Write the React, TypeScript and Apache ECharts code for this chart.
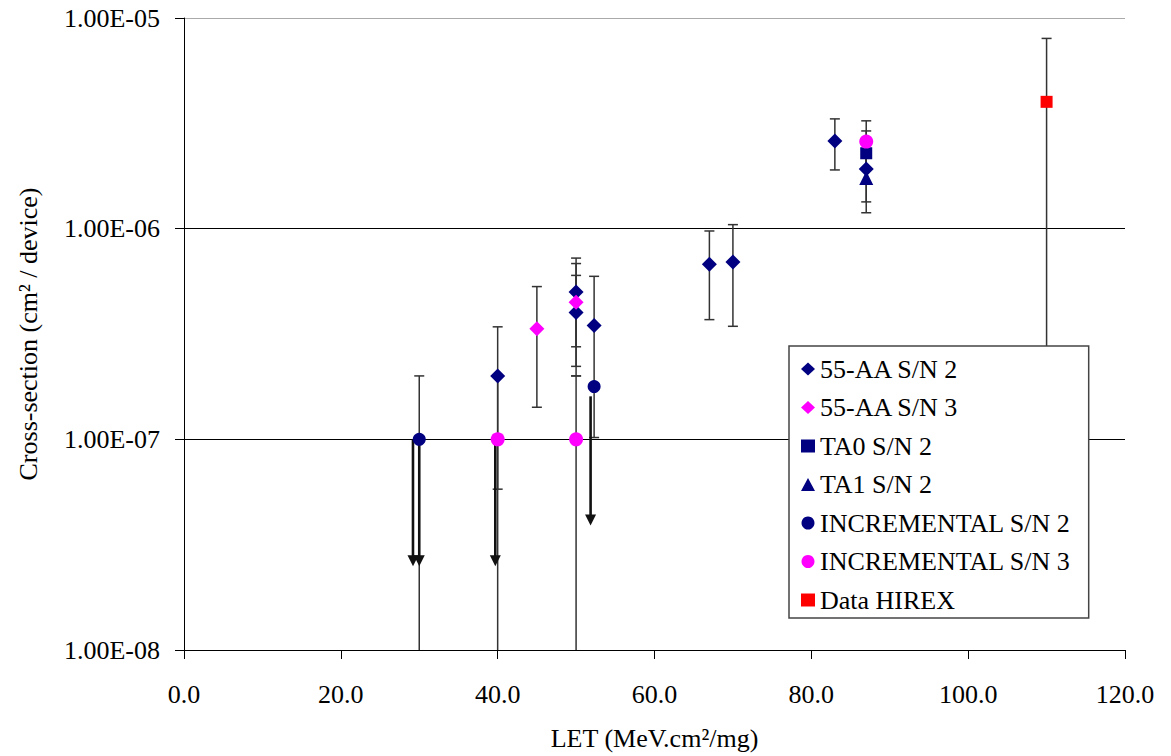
import React, { useEffect, useRef } from "react";
import * as echarts from "echarts";

// ---- Data ----
const seriesNames = [
  "55-AA S/N 2",
  "55-AA S/N 3",
  "TA0 S/N 2",
  "TA1 S/N 2",
  "INCREMENTAL S/N 2",
  "INCREMENTAL S/N 3",
  "Data HIREX",
];

// 55-AA S/N 2
const aa2X = [40, 50, 50, 52.3, 67, 70, 83, 87];
const aa2Y = [2.0e-7, 5.0e-7, 4.0e-7, 3.47e-7, 6.78e-7, 6.95e-7, 2.61e-6, 1.92e-6];
const aa2Hi = [3.42e-7, 7.25e-7, 6.0e-7, 5.94e-7, 9.75e-7, 1.045e-6, 3.32e-6, 2.5e-6];
const aa2Lo = [5.8e-8, 2.75e-7, 2.0e-7, 1.02e-7, 3.7e-7, 3.44e-7, 1.9e-6, 1.34e-6];

// 55-AA S/N 3
const aa3X = [45, 50];
const aa3Y = [3.35e-7, 4.47e-7];
const aa3Hi = [5.31e-7, 6.83e-7];
const aa3Lo = [1.42e-7, 2.22e-7];

// TA0 S/N 2
const ta0X = [87];
const ta0Y = [2.28e-6];
const ta0Hi = [2.91e-6];
const ta0Lo = [1.65e-6];

// TA1 S/N 2
const ta1X = [87];
const ta1Y = [1.74e-6];
const ta1Hi = [2.3e-6];
const ta1Lo = [1.19e-6];

// INCREMENTAL S/N 2 (lower bound 1e-8 = runs to the axis)
const inc2X = [30, 52.3];
const inc2Y = [1.0e-7, 1.78e-7];
const inc2Hi = [2.0e-7, null];
const inc2Lo = [1.0e-8, null];

// INCREMENTAL S/N 3
const inc3X = [40, 50, 87];
const inc3Y = [1.0e-7, 1.0e-7, 2.59e-6];
const inc3Hi = [2.0e-7, 2.0e-7, 3.25e-6];
const inc3Lo = [1.0e-8, 1.0e-8, 1.93e-6];

// Data HIREX
const hirexX = [110];
const hirexY = [4.0e-6];
const hirexHi = [8.0e-6];
const hirexLo = [1.0e-7];

// Upper-limit arrows (x, from, to)
const arrowX = [29.2, 30.0, 39.7, 51.85];
const arrowFrom = [1.0e-7, 1.0e-7, 1.0e-7, 1.6e-7];
const arrowTo = [2.5e-8, 2.5e-8, 2.5e-8, 3.9e-8];

// Axis ticks
const xMin = 0;
const xMax = 120;
const xInterval = 20;
const yMin = 1e-8;
const yMax = 1e-5;

const NAVY = "#000080";
const MAGENTA = "#FF00FF";
const RED = "#FF0000";
const FONT = "Times New Roman, Liberation Serif, DejaVu Serif, serif";

function pts(xs: number[], ys: number[]) {
  return xs.map((x, i) => [x, ys[i]]);
}
function errs(xs: number[], lo: (number | null)[], hi: (number | null)[]) {
  const out: number[][] = [];
  xs.forEach((x, i) => {
    if (lo[i] != null && hi[i] != null) out.push([x, lo[i] as number, hi[i] as number]);
  });
  return out;
}

function fmtExp(v: number) {
  const e = Math.round(Math.log10(v));
  return "1.00E" + (e < 0 ? "-" : "+") + String(Math.abs(e)).padStart(2, "0");
}

export default function App() {
  const ref = useRef<HTMLDivElement>(null);
  useEffect(() => {
    if (!ref.current) return;
    const chart = echarts.init(ref.current, undefined, { renderer: "svg" });

    const errStyle = { stroke: "#333", lineWidth: 1.5 };
    const renderErr = (params: any, api: any) => {
      const x = api.value(0);
      const lo = api.value(1);
      const hi = api.value(2);
      const top = api.coord([x, hi]);
      const bot = api.coord([x, lo]);
      const cap = 5;
      const children: any[] = [
        { type: "line", shape: { x1: top[0], y1: top[1], x2: bot[0], y2: bot[1] }, style: errStyle },
        { type: "line", shape: { x1: top[0] - cap, y1: top[1], x2: top[0] + cap, y2: top[1] }, style: errStyle },
      ];
      if (lo > yMin) {
        children.push({
          type: "line",
          shape: { x1: bot[0] - cap, y1: bot[1], x2: bot[0] + cap, y2: bot[1] },
          style: errStyle,
        });
      }
      return { type: "group", children };
    };

    const renderArrow = (params: any, api: any) => {
      const x = api.value(0);
      const s = api.coord([x, api.value(1)]);
      const t = api.coord([x, api.value(2)]);
      const hh = 11;
      const hw = 5.5;
      return {
        type: "group",
        children: [
          {
            type: "line",
            shape: { x1: s[0], y1: s[1], x2: t[0], y2: t[1] - hh + 1 },
            style: { stroke: "#111", lineWidth: 2.6 },
          },
          {
            type: "polygon",
            shape: { points: [[t[0] - hw, t[1] - hh], [t[0] + hw, t[1] - hh], [t[0], t[1]]] },
            style: { fill: "#111" },
          },
        ],
      };
    };

    const allErr = [
      ...errs(aa2X, aa2Lo, aa2Hi),
      ...errs(aa3X, aa3Lo, aa3Hi),
      ...errs(ta0X, ta0Lo, ta0Hi),
      ...errs(ta1X, ta1Lo, ta1Hi),
      ...errs(inc2X, inc2Lo, inc2Hi),
      ...errs(inc3X, inc3Lo, inc3Hi),
      ...errs(hirexX, hirexLo, hirexHi),
    ];
    const arrows = arrowX.map((x, i) => [x, arrowFrom[i], arrowTo[i]]);

    const sc = (name: string, data: number[][], symbol: string, size: number, color: string) => ({
      name,
      type: "scatter",
      data,
      symbol,
      symbolSize: size,
      itemStyle: { color, opacity: 1 },
      z: 3,
    });

    const txt = { fontFamily: FONT, fontSize: 26, color: "#000", fontWeight: "normal" as const };

    chart.setOption({
      animation: false,
      backgroundColor: "#fff",
      textStyle: { fontFamily: FONT },
      grid: { left: 184, right: 46, top: 18, bottom: 104, containLabel: false },
      xAxis: {
        type: "value",
        min: xMin,
        max: xMax,
        interval: xInterval,
        axisLine: { show: true, onZero: false, lineStyle: { color: "#000", width: 1 } },
        axisTick: { show: true, inside: false, length: 9, lineStyle: { color: "#000" } },
        axisLabel: { ...txt, formatter: (v: number) => v.toFixed(1), margin: 31 },
        splitLine: { show: false },
        name: "LET (MeV.cm²/mg)",
        nameLocation: "middle",
        nameGap: 75,
        nameTextStyle: txt,
      },
      yAxis: {
        type: "log",
        logBase: 10,
        min: yMin,
        max: yMax,
        axisLine: { show: true, lineStyle: { color: "#000", width: 1 } },
        axisTick: { show: true, inside: false, length: 9, lineStyle: { color: "#000" } },
        minorTick: { show: false },
        axisLabel: { ...txt, formatter: (v: number) => fmtExp(v), margin: 24 },
        splitLine: { show: true, lineStyle: { color: ["#000", "#000", "#000", "#aaa"], width: 1 } },
        name: "Cross-section (cm² / device)",
        nameLocation: "middle",
        nameGap: 143,
        nameTextStyle: txt,
      },
      legend: {
        data: seriesNames,
        orient: "vertical",
        left: 789,
        top: 346,
        padding: [10, 18, 5, 12],
        itemGap: 12.5,
        itemWidth: 14,
        itemHeight: 13,
        backgroundColor: "#fff",
        borderColor: "#444",
        borderWidth: 1.5,
        borderRadius: 0,
        selectedMode: false,
        textStyle: { ...txt, lineHeight: 25 },
        z: 10,
      },
      series: [
        {
          name: "errbars",
          type: "custom",
          renderItem: renderErr,
          data: allErr,
          encode: { x: 0, y: [1, 2] },
          z: 1,
          silent: true,
        },
        {
          name: "arrows",
          type: "custom",
          renderItem: renderArrow,
          data: arrows,
          encode: { x: 0, y: [1, 2] },
          z: 2,
          silent: true,
        },
        sc(seriesNames[0], pts(aa2X, aa2Y), "diamond", 15, NAVY),
        sc(seriesNames[1], pts(aa3X, aa3Y), "diamond", 15, MAGENTA),
        sc(seriesNames[2], pts(ta0X, ta0Y), "rect", 12, NAVY),
        sc(seriesNames[3], pts(ta1X, ta1Y), "triangle", 14, NAVY),
        sc(seriesNames[4], pts(inc2X, inc2Y), "circle", 13, NAVY),
        sc(seriesNames[5], pts(inc3X, inc3Y), "circle", 14, MAGENTA),
        sc(seriesNames[6], pts(hirexX, hirexY), "rect", 12, RED),
      ],
    });

    return () => chart.dispose();
  }, []);

  return (
    <div
      ref={ref}
      style={{ position: "absolute", left: 0, top: 0, width: 1171, height: 756, background: "#fff" }}
    />
  );
}
